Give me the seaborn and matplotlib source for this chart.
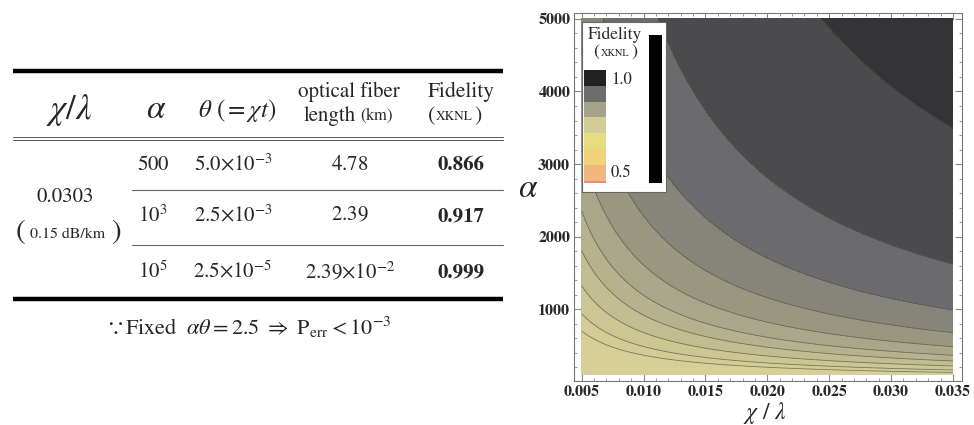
import numpy as np
import matplotlib
matplotlib.use("Agg")
import matplotlib.pyplot as plt
import seaborn as sns
from matplotlib.patches import Rectangle

# ---- table data ----
chi_lambda = "0.0303"
loss = "0.15 dB/km"
alphas = [r"$500$", r"$10^{3}$", r"$10^{5}$"]
thetas = [r"$5.0{\times}10^{-3}$", r"$2.5{\times}10^{-3}$", r"$2.5{\times}10^{-5}$"]
fiber_km = [r"$4.78$", r"$2.39$", r"$2.39{\times}10^{-2}$"]
fidelity = ["0.866", "0.917", "0.999"]

# ---- contour data ----
# alpha where each band boundary meets the right edge (chi/lambda = 0.035)
edge_alpha = [130, 164, 219, 288, 366, 485, 678, 990, 1624, 3493]
band_colors = ["#d7d096", "#d3cd94", "#cbc692", "#c1bd90", "#b5b28d", "#a9a68a",
               "#99977f", "#868579", "#6b6a6c", "#4b4a4c", "#343335"]
alpha_shift = 35
chi_range = (0.005, 0.035)
alpha_range = (100, 5000)

legend_colors = ["#232223", "#6d6d6d", "#a5a28c", "#d2cd98", "#e8dc82",
                 "#eed37b", "#f0b77b", "#ec8c72"]

sns.set_style("ticks")
plt.rcParams["font.family"] = ["STIXGeneral", "DejaVu Serif"]
plt.rcParams["mathtext.fontset"] = "stix"

fig = plt.figure(figsize=(9.74, 4.25), dpi=100)

# ---- contour plot ----
ax = fig.add_axes([574.3 / 974, 1 - 381 / 425, 387.7 / 974, 368 / 425])
xs = np.linspace(*chi_range, 500)
ys = np.linspace(*alpha_range, 500)
X, Y = np.meshgrid(xs, ys)
Z = X * (Y - alpha_shift)
lv = [chi_range[1] * (a - alpha_shift) for a in edge_alpha]
levels = [0] + lv + [Z.max() + 1]
ax.contourf(X, Y, Z, levels=levels, colors=sns.color_palette(band_colors))
ax.contour(X, Y, Z, levels=lv, colors="#55554f", linewidths=0.6, alpha=0.7)

ax.set_xlim(0.0044, 0.03573)
ax.set_ylim(12, 5081)
ax.set_xticks([0.005, 0.010, 0.015, 0.020, 0.025, 0.030, 0.035])
ax.set_xticklabels(["0.005", "0.010", "0.015", "0.020", "0.025", "0.030", "0.035"])
ax.set_xticks(np.arange(0.005, 0.0351, 0.001), minor=True)
ax.set_yticks([1000, 2000, 3000, 4000, 5000])
ax.set_yticks(np.arange(200, 5001, 200), minor=True)
ax.tick_params(which="both", direction="in", top=True, right=True, color="#888888",
               labelsize=11.5, pad=3)
ax.tick_params(which="major", length=5, width=0.8)
ax.tick_params(which="minor", length=2.5, width=0.6)
for lab in ax.get_xticklabels() + ax.get_yticklabels():
    lab.set_fontweight("bold")
for sp in ax.spines.values():
    sp.set_color("#777777")
    sp.set_linewidth(0.8)
ax.set_xlabel(r"$\chi\ /\ \lambda$", fontsize=17, va="center")
ax.xaxis.set_label_coords(0.492, -0.087)
ax.set_ylabel(r"$\alpha$", fontsize=24, rotation=0, va="center", ha="center")
ax.yaxis.set_label_coords(-0.12, 0.52)

# ---- overlay in pixel coordinates: table and legend box ----
tab = fig.add_axes([0, 0, 1, 1])
tab.set_xlim(0, 974)
tab.set_ylim(425, 0)
tab.axis("off")

tab.plot([13, 503], [71, 71], color="black", lw=3.2, solid_capstyle="butt")
tab.plot([13, 503], [136.5, 136.5], color="#555555", lw=0.7)
tab.plot([13, 503], [140, 140], color="#555555", lw=0.7)
tab.plot([132, 503], [189.5, 189.5], color="#666666", lw=0.8)
tab.plot([132, 503], [244.5, 244.5], color="#666666", lw=0.8)
tab.plot([13, 503], [299, 299], color="black", lw=3.2, solid_capstyle="butt")

kw = dict(ha="center", va="center")
tab.text(69, 110, r"$\chi/\lambda$", fontsize=25, **kw)
tab.text(156, 110, r"$\alpha$", fontsize=24, **kw)
tab.text(237, 110, r"$\theta\ \left(=\chi t\right)$", fontsize=18, **kw)
tab.text(349, 92, "optical fiber", fontsize=15, **kw)
tab.text(330, 116, "length", fontsize=15, **kw)
tab.text(377, 115, r"$\left(\mathrm{km}\right)$", fontsize=12, **kw)
tab.text(461, 92, "Fidelity", fontsize=15.5, **kw)
tab.text(432, 116, "(", fontsize=16, **kw)
tab.text(454, 117, "XKNL", fontsize=9.5, **kw)
tab.text(478, 116, ")", fontsize=16, **kw)

tab.text(65, 197, chi_lambda, fontsize=15, **kw)
tab.text(20, 232, "(", fontsize=21, **kw)
tab.text(68, 234, loss, fontsize=11.5, **kw)
tab.text(116, 232, ")", fontsize=21, **kw)

row_y = [165, 216, 272]
for i in range(3):
    tab.text(153, row_y[i], alphas[i], fontsize=15, **kw)
    tab.text(233, row_y[i], thetas[i], fontsize=15, **kw)
    tab.text(350, row_y[i], fiber_km[i], fontsize=15, **kw)
    tab.text(461, row_y[i], fidelity[i], fontsize=15, fontweight="bold", **kw)

tab.text(248, 327, r"$\because\mathrm{Fixed}\ \ \alpha\theta=2.5\ \Rightarrow\ \mathrm{P}_{\mathrm{err}}<10^{-3}$",
         fontsize=16, **kw)

# legend box
tab.add_patch(Rectangle((582, 21.7), 84, 170, facecolor="white", edgecolor="#666666", lw=0.8))
tab.add_patch(Rectangle((648.7, 35), 13, 148.3, facecolor="black", edgecolor="none"))
edges = [70, 86, 101.7, 117.3, 133.3, 149.3, 165, 180.7, 183.3]
for c, y0, y1 in zip(legend_colors, edges[:-1], edges[1:]):
    tab.add_patch(Rectangle((584.3, y0), 21.7, y1 - y0, facecolor=c, edgecolor="none"))
tab.text(615, 35, "Fidelity", fontsize=12.5, **kw)
tab.text(596, 52, "(", fontsize=13, **kw)
tab.text(615, 53, "XKNL", fontsize=7.5, **kw)
tab.text(634, 52, ")", fontsize=13, **kw)
tab.text(611, 80, "1.0", fontsize=12, ha="left", va="center")
tab.text(611, 173, "0.5", fontsize=12, ha="left", va="center")

fig.savefig("out.png", dpi=100)
